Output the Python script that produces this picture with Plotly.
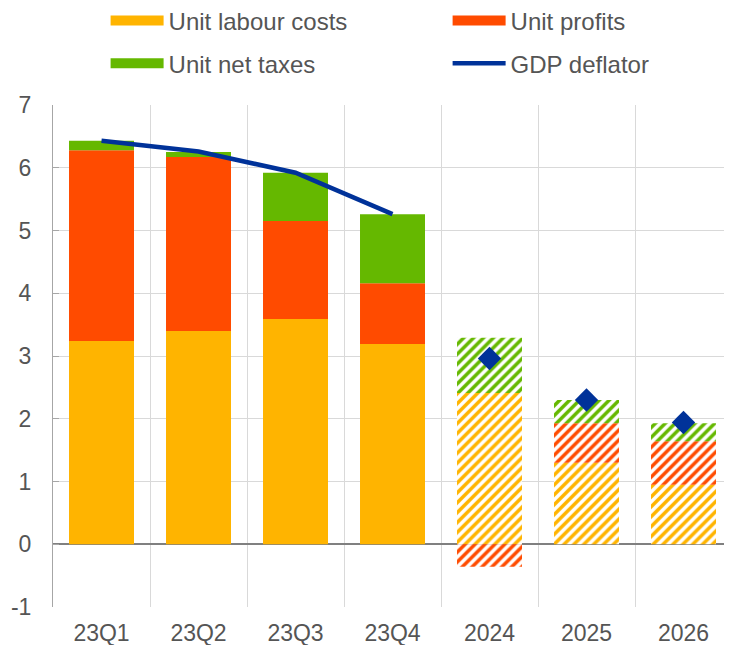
import plotly.graph_objects as go

categories = ["23Q1", "23Q2", "23Q3", "23Q4", "2024", "2025", "2026"]
quarters = categories[:4]
years = categories[4:]

labour_q = [3.24, 3.40, 3.59, 3.19]
profits_q = [3.04, 2.77, 1.56, 0.97]
taxes_q = [0.15, 0.08, 0.77, 1.10]
deflator_q = [6.43, 6.26, 5.92, 5.26]

labour_y = [2.41, 1.30, 0.95]
profits_y = [-0.36, 0.63, 0.69]
taxes_y = [0.88, 0.37, 0.29]
deflator_y = [2.96, 2.30, 1.94]

y_ticks = [-1, 0, 1, 2, 3, 4, 5, 6, 7]
y_labels = ["-1", "0", "1", "2", "3", "4", "5", "6", "7"]

YELLOW = "#FFB400"
RED = "#FF4B00"
GREEN = "#65B800"
BLUE = "#003299"

fig = go.Figure()

series = [
    ("Unit labour costs", labour_q, labour_y, YELLOW, "legend"),
    ("Unit profits", profits_q, profits_y, RED, "legend2"),
    ("Unit net taxes", taxes_q, taxes_y, GREEN, "legend3"),
]
for name, vq, vy, col, lg in series:
    fig.add_trace(go.Bar(x=quarters, y=vq, name=name, marker_color=col,
                         marker_line_width=0, showlegend=False))
    fig.add_trace(go.Bar(x=years, y=vy, name=name, showlegend=False,
                         marker_line_width=0,
                         marker=dict(color=col,
                                     pattern=dict(shape="/", fgcolor=col, bgcolor="white",
                                                  fgopacity=1, size=7, solidity=0.5,
                                                  fillmode="overlay"))))
    # wide swatch for the legend
    fig.add_trace(go.Scatter(x=[None], y=[None], name=name, mode="lines",
                             line=dict(color=col, width=13), legend=lg))

fig.add_trace(go.Scatter(x=quarters, y=deflator_q, name="GDP deflator", mode="lines",
                         line=dict(color=BLUE, width=4.5), legend="legend4"))
fig.add_trace(go.Scatter(x=years, y=deflator_y, mode="markers", showlegend=False,
                         marker=dict(symbol="diamond", size=18, color=BLUE)))

tick_font = dict(family="Liberation Sans, Arial", size=23, color="#555555")
leg = dict(orientation="h", xanchor="left", yanchor="middle",
           xref="container", yref="container",
           font=dict(family="Liberation Sans, Arial", size=24, color="#555555"),
           bgcolor="rgba(0,0,0,0)", itemwidth=53)

# page body adds 8px margin, so the figure is sized to fit the window
fig.update_layout(
    width=724, height=637,
    barmode="relative", bargap=0.33,
    plot_bgcolor="white", paper_bgcolor="white",
    font=tick_font,
    margin=dict(l=45, r=0, t=97, b=38),
    legend=dict(leg, x=0.1348, y=0.9796),
    legend2=dict(leg, x=0.6072, y=0.9796),
    legend3=dict(leg, x=0.1348, y=0.9125),
    legend4=dict(leg, x=0.6072, y=0.9125),
)
fig.update_xaxes(type="category", tickson="boundaries", showgrid=True, gridcolor="#d9d9d9",
                 ticks="", showline=False, ticklabelstandoff=10, tickfont=tick_font)
fig.update_yaxes(range=[-1, 7], tickvals=y_ticks, ticktext=y_labels, showgrid=True,
                 gridcolor="#d9d9d9", zeroline=True, zerolinecolor="#808080",
                 zerolinewidth=1.5, showline=True, linecolor="#a6a6a6", ticks="inside",
                 ticklen=6, tickcolor="#a6a6a6", ticklabelstandoff=16, tickfont=tick_font)

fig.write_html("out.html")
